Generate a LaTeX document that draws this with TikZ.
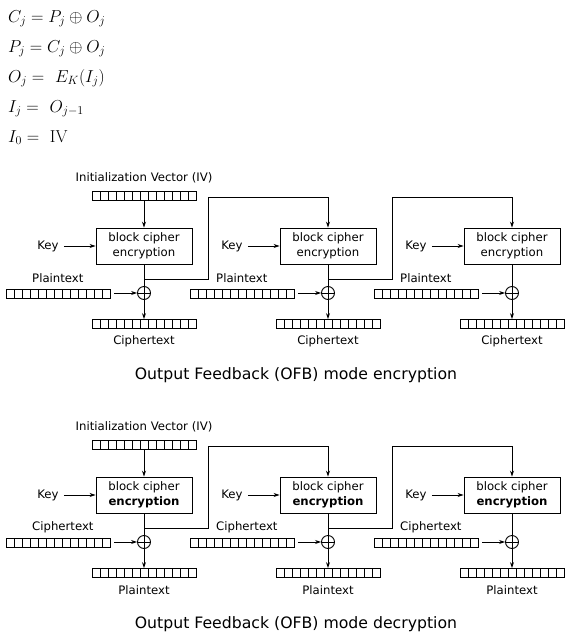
\documentclass[tikz,border=0pt]{standalone}
\usepackage[no-math]{fontspec}
\setmainfont{DejaVu Sans}
\usetikzlibrary{arrows.meta,calc}
\begin{document}
\begin{tikzpicture}[x=1pt,y=-1pt,
  txt/.style={font=\fontsize{11.7}{13}\selectfont, inner sep=0pt},
  ttl/.style={font=\fontsize{15.7}{18}\selectfont, inner sep=0pt},
  eq/.style={font=\fontsize{18.6}{20}\selectfont, inner sep=0pt, anchor=base west},
  reg/.style={draw, line width=0.9pt, minimum width=104pt, minimum height=9pt, inner sep=0pt,
    path picture={\foreach \i in {1,...,12}{\draw[line width=0.9pt] ([xshift=\i*8pt]path picture bounding box.south west) -- ([xshift=\i*8pt]path picture bounding box.north west);}}},
  cbox/.style={draw, line width=0.9pt, minimum width=96pt, minimum height=36pt, inner sep=0pt, align=center, font=\fontsize{11.7}{15}\selectfont},
  xor/.style={draw, circle, line width=0.9pt, minimum size=13pt, inner sep=0pt,
    path picture={\draw[line width=0.9pt] (path picture bounding box.north) -- (path picture bounding box.south) (path picture bounding box.west) -- (path picture bounding box.east);}},
  arr/.style={line width=0.9pt, -{Stealth[length=6pt,width=4pt]}},
  ln/.style={line width=0.9pt}]
\useasboundingbox (0,0) rectangle (571,635);
% equations
\node[eq] (e1) at (8,22) {$C_j = P_j \oplus O_j$};
\node[eq] (e2) at (8,52) {$P_j = C_j \oplus O_j$};
\node[eq] (e3) at (8,82) {$O_j = \ E_K(I_j)$};
\node[eq] (e4) at (8,112) {$I_j = \ O_{j-1}$};
\node[eq] (e5) at (8,142) {$I_0 = \ \mathrm{IV}$};

\foreach \s/\dy/\inl/\outl/\ttlt/\second in {E/0/Plaintext/Ciphertext/encryption/{encryption},D/249/Ciphertext/Plaintext/decryption/{\textbf{encryption}}}{
  \node[txt] (ivt\s) at (144,178+\dy) {Initialization Vector (IV)};
  \node[reg] (iv\s) at (144,196+\dy) {};
  \foreach \c/\cx in {1/144,2/328,3/512}{
    \node[cbox] (b\s\c) at (\cx,246+\dy) {block cipher\\\second};
    \node[txt] (k\s\c) at (\cx-96,246+\dy) {Key};
    \draw[arr] ([xshift=5pt]k\s\c.east) -- (b\s\c.west);
    \node[xor] (x\s\c) at (\cx,293+\dy) {};
    \node[reg] (in\s\c) at (\cx-86,294+\dy) {};
    \node[txt, anchor=west] (int\s\c) at (\cx-112,278+\dy) {\inl};
    \node[reg] (o\s\c) at (\cx,324+\dy) {};
    \node[txt] (ot\s\c) at (\cx,341+\dy) {\outl};
    \draw[ln] (b\s\c.south) -- (x\s\c.north);
    \draw[arr] ([xshift=4pt]in\s\c.east |- x\s\c.west) -- (x\s\c.west);
    \draw[arr] (x\s\c.south) -- (o\s\c.north);
    \coordinate (f\s\c) at (\cx,279+\dy);
    \coordinate (u\s\c) at (\cx+64,197+\dy);
  }
  \draw[arr] (iv\s.south) -- (b\s1.north);
  \draw[arr] (f\s1) -| (u\s1) -| (b\s2.north);
  \draw[arr] (f\s2) -| (u\s2) -| (b\s3.north);
  \node[ttl] (t\s) at (296,375+\dy) {Output Feedback (OFB) mode \ttlt};
}
\end{tikzpicture}
\end{document}
